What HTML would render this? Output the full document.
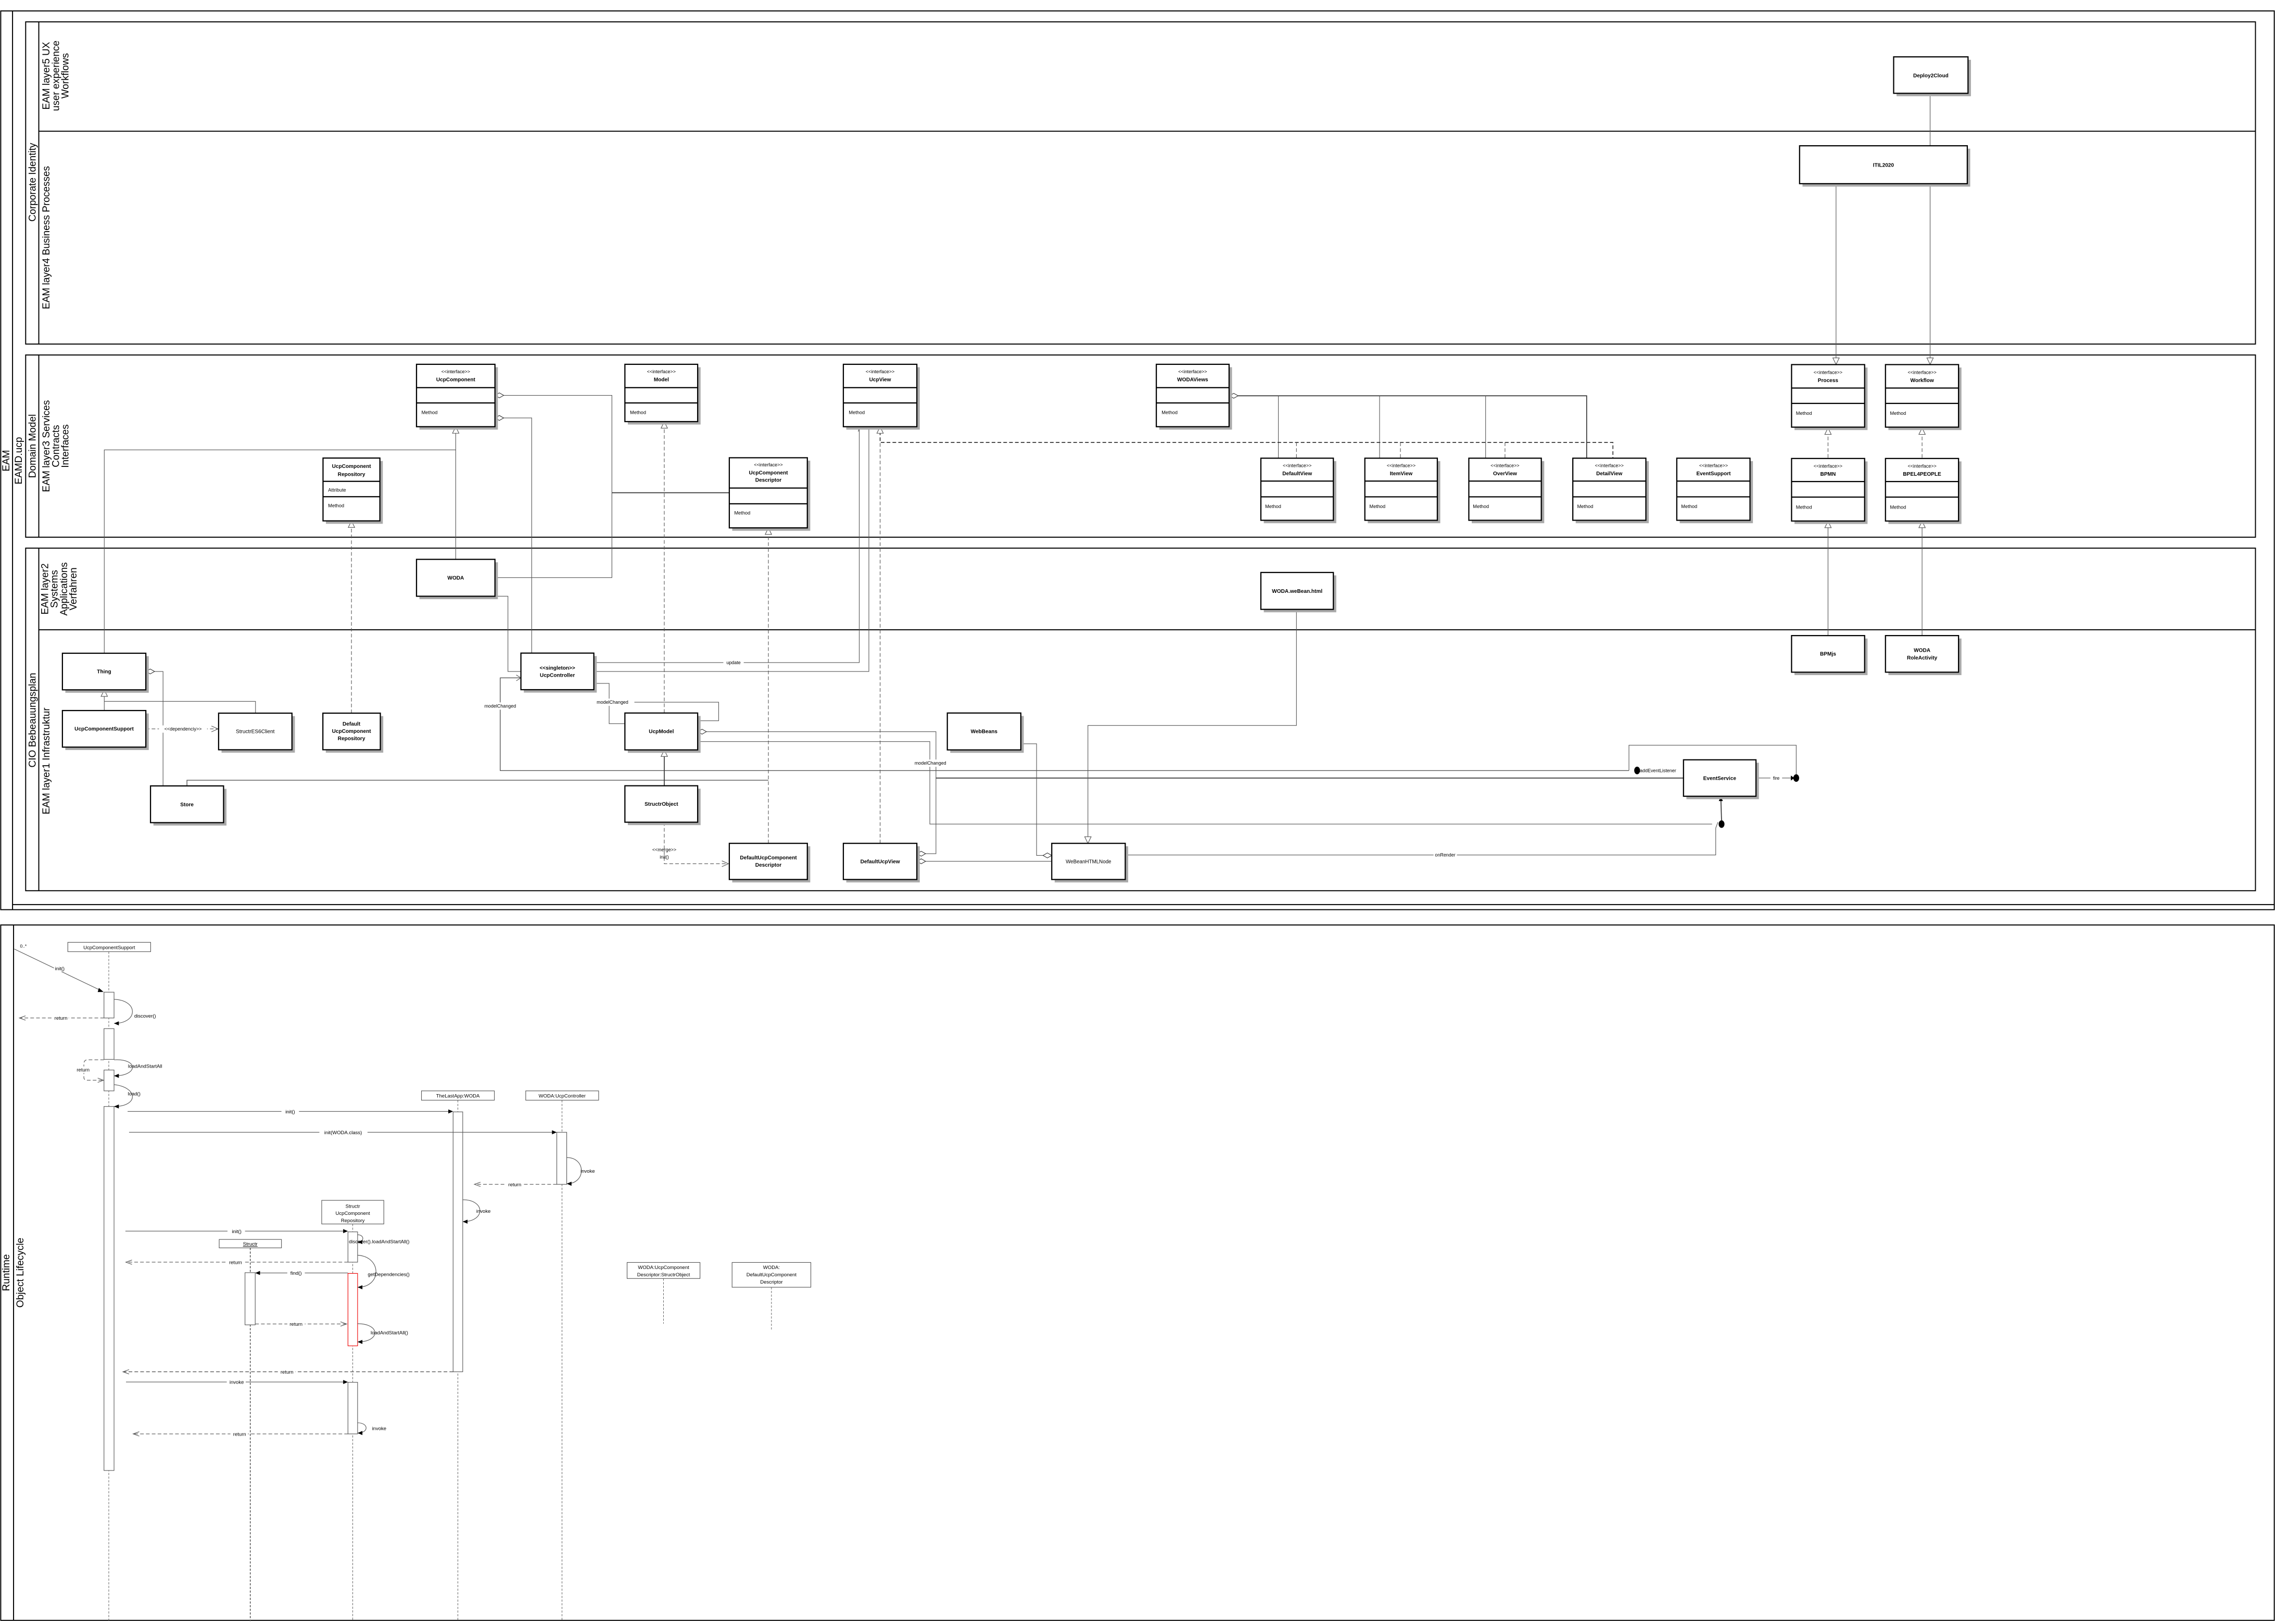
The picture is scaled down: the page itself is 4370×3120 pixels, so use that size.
<!DOCTYPE html>
<html><head><meta charset="utf-8"><style>
html,body{margin:0;padding:0;background:#fff;}
svg{display:block;}
text{font-family:"Liberation Sans",sans-serif;fill:#000;}
.lane{fill:none;stroke:#000;stroke-width:0.7;}
.box{fill:#fff;stroke:#000;stroke-width:0.8;}
.sh{fill:#aaa;}
.c{fill:none;stroke:#555;stroke-width:0.4;}
.ct{fill:none;stroke:#333;stroke-width:0.6;}
.d{fill:none;stroke:#555;stroke-width:0.4;stroke-dasharray:2.5,1.5;}
.b{font-size:3.6px;font-weight:bold;text-anchor:middle;}
.s{font-size:3.2px;text-anchor:middle;}
.m{font-size:3.3px;}
.L{font-size:6.8px;text-anchor:middle;}
.q{font-size:3.4px;text-anchor:middle;}
.act{fill:#fff;stroke:#555;stroke-width:0.4;}
.ll{fill:none;stroke:#444;stroke-width:0.3;stroke-dasharray:1.5,1;}
.tri{fill:#fff;stroke:#555;stroke-width:0.4;}
.dia{fill:#fff;stroke:#333;stroke-width:0.4;}
</style></head><body>
<svg width="4370" height="3120" viewBox="0 0 1560 1114" preserveAspectRatio="none" xmlns="http://www.w3.org/2000/svg">
<rect width="1560" height="1114" fill="#fff"/>
<!-- ===== Top frame ===== -->
<rect class="lane" x="0.5" y="7.5" width="1559" height="616.5"/>
<line class="lane" x1="8.6" y1="7.5" x2="8.6" y2="624"/>
<line class="lane" x1="8.6" y1="620.5" x2="1559.5" y2="620.5"/>
<text class="L" transform="translate(6.5,316) rotate(-90)">EAM</text>
<text class="L" transform="translate(15,316) rotate(-90)">EAMD.ucp</text>
<!-- Corporate Identity pool -->
<rect class="lane" x="17.6" y="15" width="1529" height="221"/>
<line class="lane" x1="26.6" y1="15" x2="26.6" y2="236"/>
<line class="lane" x1="26.6" y1="90" x2="1546.6" y2="90"/>
<text class="L" transform="translate(24.5,125) rotate(-90)">Corporate Identity</text>
<text class="L" transform="translate(34,52) rotate(-90)"><tspan x="0" dy="0">EAM layer5 UX</tspan><tspan x="0" dy="6.5">user experience</tspan><tspan x="0" dy="6.5">Workflows</tspan></text>
<text class="L" transform="translate(34,163) rotate(-90)">EAM layer4 Business Processes</text>
<!-- Domain model pool -->
<rect class="lane" x="17.6" y="243.5" width="1529" height="125"/>
<line class="lane" x1="26.6" y1="243.5" x2="26.6" y2="368.5"/>
<text class="L" transform="translate(24.5,306) rotate(-90)">Domain Model</text>
<text class="L" transform="translate(34,306) rotate(-90)"><tspan x="0" dy="0">EAM layer3 Services</tspan><tspan x="0" dy="6.5">Contracts</tspan><tspan x="0" dy="6.5">Interfaces</tspan></text>
<!-- CIO pool -->
<rect class="lane" x="17.6" y="376" width="1529" height="235"/>
<line class="lane" x1="26.6" y1="376" x2="26.6" y2="611"/>
<line class="lane" x1="26.6" y1="432" x2="1546.6" y2="432"/>
<text class="L" transform="translate(24.5,494) rotate(-90)">CIO Bebeauungsplan</text>
<text class="L" transform="translate(33,404) rotate(-90)"><tspan x="0" dy="0">EAM layer2</tspan><tspan x="0" dy="6.5">Systems</tspan><tspan x="0" dy="6.5">Applications</tspan><tspan x="0" dy="6.5">Verfahren</tspan></text>
<text class="L" transform="translate(34,522) rotate(-90)">EAM layer1 Infrastruktur</text>

<!-- ===== connectors (drawn under boxes) ===== -->
<g>
<polyline class="c" points="1259,126 1259,248"/>
<polygon class="tri" points="1259,250 1256.8,245.5 1261.2,245.5"/>
<polyline class="c" points="1323.5,64 1323.5,248"/>
<polygon class="tri" points="1323.5,250 1321.3,245.5 1325.7,245.5"/>
<line class="d" x1="1253.5" y1="314" x2="1253.5" y2="296"/><polygon class="tri" points="1253.5,293.5 1251.3,298 1255.7,298"/>
<line class="d" x1="1318" y1="314" x2="1318" y2="296"/><polygon class="tri" points="1318,293.5 1315.8,298 1320.2,298"/>
<line class="c" x1="1253.5" y1="436" x2="1253.5" y2="362"/><polygon class="tri" points="1253.5,357.5 1251.3,362 1255.7,362"/>
<line class="c" x1="1318" y1="436" x2="1318" y2="362"/><polygon class="tri" points="1318,357.5 1315.8,362 1320.2,362"/>
<polyline class="ct" points="843,271.5 1088,271.5 1088,314"/>
<line class="c" x1="876.6" y1="271.5" x2="876.6" y2="314"/>
<line class="c" x1="946" y1="271.5" x2="946" y2="314"/>
<line class="c" x1="1018.7" y1="271.5" x2="1018.7" y2="314"/>
<polygon class="dia" points="843,271.5 846,269.8 849,271.5 846,273.2"/>
<polyline class="d" points="603.5,296 603.5,303.5 1106,303.5 1106,314" style="stroke:#333;stroke-width:0.6"/>
<line class="d" x1="889" y1="303.5" x2="889" y2="314"/>
<line class="d" x1="960.3" y1="303.5" x2="960.3" y2="314"/>
<line class="d" x1="1032" y1="303.5" x2="1032" y2="314"/>
<polygon class="tri" points="603.5,292.7 601.3,297.2 605.7,297.2"/>
<polyline class="c" points="339.4,271.2 419.6,271.2 419.6,396.2 339.4,396.2"/>
<line class="ct" x1="419.6" y1="338" x2="500.1" y2="338"/>
<polygon class="dia" points="339.4,271.2 342.4,269.5 345.4,271.2 342.4,272.9"/>
<polyline class="c" points="339.4,286.7 364.6,286.7 364.6,448"/>
<polygon class="dia" points="339.4,286.7 342.4,285 345.4,286.7 342.4,288.4"/>
<polyline class="c" points="312.5,297 312.5,383.7"/>
<polyline class="c" points="312.5,308.6 71.5,308.6 71.5,448.1"/>
<polygon class="tri" points="312.5,292.7 310.3,297.2 314.7,297.2"/>
<polyline class="c" points="339.4,409 348.3,409 348.3,460.6 357.2,460.6"/>
<line class="d" x1="455.5" y1="489" x2="455.5" y2="293"/>
<polygon class="tri" points="455.5,289.2 453.3,293.7 457.7,293.7"/>
<line class="d" x1="526.9" y1="578.5" x2="526.9" y2="366"/>
<polygon class="tri" points="526.9,362.1 524.7,366.6 529.1,366.6"/>
<line class="d" x1="241" y1="489.2" x2="241" y2="361"/>
<polygon class="tri" points="241,357.3 238.8,361.8 243.2,361.8"/>
<line class="d" x1="603.5" y1="578.5" x2="603.5" y2="303.5"/>
<polyline class="c" points="407.2,454.5 589.2,454.5 589.2,293"/>
<polyline class="c" points="407.2,460.6 595.8,460.6 595.8,293"/>
<line class="c" x1="588.5" y1="296" x2="589.5" y2="293"/>
<rect x="496" y="452" width="14" height="5" fill="#fff"/>
<text class="s" x="503" y="455.6">update</text>
<polyline class="c" points="407.2,468.8 417.7,468.8 417.7,496.4 428.5,496.4"/>
<polyline class="c" points="478.4,494.4 492.8,494.4 492.8,481.7 417.7,481.7"/>
<rect x="405" y="479.2" width="30" height="5" fill="#fff"/>
<text class="s" x="420" y="482.8">modelChanged</text>
<polyline class="c" points="357.2,465 343,465 343,528.6 1117,528.6" style="stroke:#555;stroke-width:0.5"/>
<polyline class="c" points="354,463 357.2,465 354,467"/>
<rect x="328" y="481.8" width="30" height="5" fill="#fff"/>
<text class="s" x="343" y="485.5">modelChanged</text>
<polyline class="c" points="128.2,539.1 128.2,535.2 526.9,535.2" style="stroke:#555;stroke-width:0.5"/>
<polyline class="c" points="478.4,501.9 641.8,501.9 641.8,585.6 628.7,585.6"/>
<polygon class="dia" points="478.4,501.9 481.4,500.2 484.4,501.9 481.4,503.6"/>
<polygon class="dia" points="628.7,585.6 631.7,583.9 634.7,585.6 631.7,587.3"/>
<polyline class="c" points="478.4,508.7 637.6,508.7 637.6,565.3 1174,565.3"/>
<rect x="623" y="521" width="30" height="5" fill="#fff"/>
<text class="s" x="638" y="524.5">modelChanged</text>
<line class="ct" x1="641.8" y1="533.7" x2="1154.4" y2="533.7"/>
<line class="ct" x1="455.5" y1="539" x2="455.5" y2="518.5"/>
<polygon class="tri" points="455.5,514.4 453.3,518.9 457.7,518.9"/>
<polyline class="d" points="455.5,564 455.5,592.5 498,592.5"/>
<polyline class="c" points="495,590.5 499.5,592.5 495,594.5"/>
<text class="s" x="455.5" y="584">&lt;&lt;merge&gt;&gt;</text>
<text class="s" x="455.5" y="589">init()</text>
<polyline class="c" points="700,510.2 710.8,510.2 710.8,586.8 721.2,586.8"/>
<polygon class="dia" points="721.2,586.8 718.2,585.1 715.2,586.8 718.2,588.5"/>
<line class="c" x1="628.7" y1="590.8" x2="721.2" y2="590.8"/>
<polygon class="dia" points="628.7,590.8 631.7,589.1 634.7,590.8 631.7,592.5"/>
<polyline class="c" points="889,418 889,497.6 746,497.6 746,575"/>
<polygon class="tri" points="746,578.5 743.8,574 748.2,574"/>
<polyline class="c" points="771.6,586.5 1176.5,586.5 1176.5,568"/>
<line class="c" x1="1176.5" y1="568" x2="1178" y2="564"/>
<rect x="983" y="584" width="16" height="5" fill="#fff"/>
<text class="s" x="991" y="587.6">onRender</text>
<polyline class="c" points="1117,528.5 1117,511.2 1231.7,511.2 1231.7,533.7"/>
<line class="c" x1="1204.1" y1="533.7" x2="1229" y2="533.7"/>
<polygon points="1228,532 1230.5,533.7 1228,535.4" fill="#000"/>
<rect x="1214" y="531.3" width="8" height="5" fill="#fff"/>
<text class="s" x="1218" y="534.9">fire</text>
<ellipse cx="1231.7" cy="533.7" rx="2" ry="2.6" fill="#000"/>
<ellipse cx="1122.6" cy="528.5" rx="2" ry="2.6" fill="#000"/>
<rect x="1125" y="526" width="29" height="5" fill="#fff"/>
<text class="m" x="1124.5" y="529.6" style="font-size:3.2px">addEventListener</text>
<ellipse cx="1180.5" cy="565.3" rx="2" ry="2.6" fill="#000"/>
<line class="ct" x1="1180.5" y1="563" x2="1180" y2="547.5"/>
<polygon points="1178.6,549.5 1180,546.3 1181.4,549.5" fill="#000"/>
<polyline class="c" points="100,460.6 111.8,460.6 111.8,539.1"/>
<polygon class="dia" points="100,460.6 103,458.9 106,460.6 103,462.3"/>
<line class="c" x1="71.5" y1="487.4" x2="71.5" y2="477"/>
<polyline class="c" points="71.5,481.1 175.2,481.1 175.2,489.2"/>
<polygon class="tri" points="71.5,473.2 69.3,477.7 73.7,477.7"/>
<line class="d" x1="100" y1="500" x2="149" y2="500"/>
<polyline class="c" points="145,498 149.5,500 145,502"/>
<rect x="109" y="497.6" width="33" height="5" fill="#fff"/>
<text class="s" x="125.5" y="501.2">&lt;&lt;dependenciy&gt;&gt;</text>
</g>

<!-- ===== Boxes ===== -->
<g>
<g class="sh">
<rect x="1300.5" y="41" width="51" height="25"/><rect x="1236" y="102" width="115" height="26"/>
<rect x="287.6" y="251.9" width="53.8" height="42.8"/><rect x="430.5" y="251.9" width="49.9" height="39.3"/>
<rect x="580.3" y="251.9" width="50.4" height="42.8"/><rect x="794.9" y="251.9" width="49.9" height="42.8"/>
<rect x="502.1" y="316" width="53.5" height="48.1"/><rect x="223.5" y="316.2" width="39" height="43.1"/>
<rect x="1230.5" y="252.1" width="50.1" height="42.9"/><rect x="1294.9" y="252.1" width="50.1" height="42.9"/>
<rect x="866.6" y="316.3" width="49.7" height="42.6"/><rect x="937.9" y="316.3" width="49.7" height="42.6"/>
<rect x="1009.2" y="316.3" width="49.7" height="42.6"/><rect x="1080.5" y="316.3" width="50.1" height="42.6"/>
<rect x="1151.8" y="316.3" width="50.2" height="42.6"/><rect x="1230.5" y="316.5" width="50.1" height="42.9"/>
<rect x="1294.9" y="316.5" width="50.1" height="42.9"/>
<rect x="287.6" y="385.7" width="53.8" height="25.3"/><rect x="866.6" y="394.7" width="49.7" height="25.3"/>
<rect x="1230.5" y="438" width="50.1" height="25.1"/><rect x="1294.9" y="438" width="50.1" height="25.1"/>
<rect x="44.8" y="450.1" width="57.2" height="25.1"/><rect x="44.8" y="489.4" width="57.2" height="25.1"/>
<rect x="151.9" y="491.2" width="50.3" height="25.1"/><rect x="223.4" y="491.2" width="39.4" height="25.1"/>
<rect x="105.2" y="541.1" width="50.1" height="25.2"/>
<rect x="359.2" y="450" width="50" height="25.1"/><rect x="430.5" y="491.1" width="49.9" height="25.3"/>
<rect x="430.5" y="541" width="49.9" height="25"/><rect x="651.6" y="491.1" width="50.4" height="25.3"/>
<rect x="502.1" y="580.5" width="53.5" height="24.8"/><rect x="580.3" y="580.5" width="50.4" height="24.8"/>
<rect x="723.2" y="580.5" width="50.4" height="24.8"/><rect x="1156.4" y="523.2" width="49.7" height="25"/>
</g>
<rect class="box" x="1298.5" y="39" width="51" height="25"/><text class="b" x="1324" y="53">Deploy2Cloud</text>
<rect class="box" x="1234" y="100" width="115" height="26"/><text class="b" x="1291.5" y="114.5">ITIL2020</text>
<g>
<rect class="box" x="285.6" y="249.9" width="53.8" height="42.8"/><line class="box" x1="285.6" y1="265.9" x2="339.4" y2="265.9"/><line class="box" x1="285.6" y1="276.4" x2="339.4" y2="276.4"/>
<text class="s" x="312.5" y="256">&lt;&lt;interface&gt;&gt;</text><text class="b" x="312.5" y="261.5">UcpComponent</text><text class="m" x="289" y="284">Method</text>
<rect class="box" x="428.5" y="249.9" width="49.9" height="39.3"/><line class="box" x1="428.5" y1="265.9" x2="478.4" y2="265.9"/><line class="box" x1="428.5" y1="276.4" x2="478.4" y2="276.4"/>
<text class="s" x="453.5" y="256">&lt;&lt;interface&gt;&gt;</text><text class="b" x="453.5" y="261.5">Model</text><text class="m" x="432" y="284">Method</text>
<rect class="box" x="578.3" y="249.9" width="50.4" height="42.8"/><line class="box" x1="578.3" y1="265.9" x2="628.7" y2="265.9"/><line class="box" x1="578.3" y1="276.4" x2="628.7" y2="276.4"/>
<text class="s" x="603.5" y="256">&lt;&lt;interface&gt;&gt;</text><text class="b" x="603.5" y="261.5">UcpView</text><text class="m" x="582" y="284">Method</text>
<rect class="box" x="792.9" y="249.9" width="49.9" height="42.8"/><line class="box" x1="792.9" y1="265.9" x2="842.8" y2="265.9"/><line class="box" x1="792.9" y1="276.4" x2="842.8" y2="276.4"/>
<text class="s" x="817.8" y="256">&lt;&lt;interface&gt;&gt;</text><text class="b" x="817.8" y="261.5">WODAViews</text><text class="m" x="796.5" y="284">Method</text>
<rect class="box" x="500.1" y="314" width="53.5" height="48.1"/><line class="box" x1="500.1" y1="334.8" x2="553.6" y2="334.8"/><line class="box" x1="500.1" y1="345.6" x2="553.6" y2="345.6"/>
<text class="s" x="526.9" y="320">&lt;&lt;interface&gt;&gt;</text><text class="b" x="526.9" y="325.5">UcpComponent</text><text class="b" x="526.9" y="330.5">Descriptor</text><text class="m" x="503.5" y="353">Method</text>
<rect class="box" x="221.5" y="314.2" width="39" height="43.1"/><line class="box" x1="221.5" y1="330.2" x2="260.5" y2="330.2"/><line class="box" x1="221.5" y1="340.7" x2="260.5" y2="340.7"/>
<text class="b" x="241" y="321">UcpComponent</text><text class="b" x="241" y="326.5">Repository</text><text class="m" x="225" y="337.3">Attribute</text><text class="m" x="225" y="348">Method</text>
<rect class="box" x="1228.5" y="250.1" width="50.1" height="42.9"/><line class="box" x1="1228.5" y1="266.2" x2="1278.6" y2="266.2"/><line class="box" x1="1228.5" y1="276.7" x2="1278.6" y2="276.7"/>
<text class="s" x="1253.5" y="256.5">&lt;&lt;interface&gt;&gt;</text><text class="b" x="1253.5" y="262">Process</text><text class="m" x="1231.5" y="284.5">Method</text>
<rect class="box" x="1292.9" y="250.1" width="50.1" height="42.9"/><line class="box" x1="1292.9" y1="266.2" x2="1343" y2="266.2"/><line class="box" x1="1292.9" y1="276.7" x2="1343" y2="276.7"/>
<text class="s" x="1318" y="256.5">&lt;&lt;interface&gt;&gt;</text><text class="b" x="1318" y="262">Workflow</text><text class="m" x="1296" y="284.5">Method</text>
<rect class="box" x="864.6" y="314.3" width="49.7" height="42.6"/><line class="box" x1="864.6" y1="330" x2="914.3" y2="330"/><line class="box" x1="864.6" y1="340.8" x2="914.3" y2="340.8"/>
<text class="s" x="889.5" y="320.5">&lt;&lt;interface&gt;&gt;</text><text class="b" x="889.5" y="326">DefaultView</text><text class="m" x="867.5" y="348.5">Method</text>
<rect class="box" x="935.9" y="314.3" width="49.7" height="42.6"/><line class="box" x1="935.9" y1="330" x2="985.6" y2="330"/><line class="box" x1="935.9" y1="340.8" x2="985.6" y2="340.8"/>
<text class="s" x="960.8" y="320.5">&lt;&lt;interface&gt;&gt;</text><text class="b" x="960.8" y="326">ItemView</text><text class="m" x="939" y="348.5">Method</text>
<rect class="box" x="1007.2" y="314.3" width="49.7" height="42.6"/><line class="box" x1="1007.2" y1="330" x2="1056.9" y2="330"/><line class="box" x1="1007.2" y1="340.8" x2="1056.9" y2="340.8"/>
<text class="s" x="1032" y="320.5">&lt;&lt;interface&gt;&gt;</text><text class="b" x="1032" y="326">OverView</text><text class="m" x="1010" y="348.5">Method</text>
<rect class="box" x="1078.5" y="314.3" width="50.1" height="42.6"/><line class="box" x1="1078.5" y1="330" x2="1128.6" y2="330"/><line class="box" x1="1078.5" y1="340.8" x2="1128.6" y2="340.8"/>
<text class="s" x="1103.5" y="320.5">&lt;&lt;interface&gt;&gt;</text><text class="b" x="1103.5" y="326">DetailView</text><text class="m" x="1081.5" y="348.5">Method</text>
<rect class="box" x="1149.8" y="314.3" width="50.2" height="42.6"/><line class="box" x1="1149.8" y1="330" x2="1200" y2="330"/><line class="box" x1="1149.8" y1="340.8" x2="1200" y2="340.8"/>
<text class="s" x="1175" y="320.5">&lt;&lt;interface&gt;&gt;</text><text class="b" x="1175" y="326">EventSupport</text><text class="m" x="1152.8" y="348.5">Method</text>
<rect class="box" x="1228.5" y="314.5" width="50.1" height="42.9"/><line class="box" x1="1228.5" y1="330.3" x2="1278.6" y2="330.3"/><line class="box" x1="1228.5" y1="341" x2="1278.6" y2="341"/>
<text class="s" x="1253.5" y="320.8">&lt;&lt;interface&gt;&gt;</text><text class="b" x="1253.5" y="326.3">BPMN</text><text class="m" x="1231.5" y="349">Method</text>
<rect class="box" x="1292.9" y="314.5" width="50.1" height="42.9"/><line class="box" x1="1292.9" y1="330.3" x2="1343" y2="330.3"/><line class="box" x1="1292.9" y1="341" x2="1343" y2="341"/>
<text class="s" x="1318" y="320.8">&lt;&lt;interface&gt;&gt;</text><text class="b" x="1318" y="326.3">BPEL4PEOPLE</text><text class="m" x="1296" y="349">Method</text>
</g>
<rect class="box" x="285.6" y="383.7" width="53.8" height="25.3"/><text class="b" x="312.5" y="397.6">WODA</text>
<rect class="box" x="864.6" y="392.7" width="49.7" height="25.3"/><text class="b" x="889.5" y="406.6">WODA.weBean.html</text>
<rect class="box" x="1228.5" y="436" width="50.1" height="25.1"/><text class="b" x="1253.5" y="449.8">BPMjs</text>
<rect class="box" x="1292.9" y="436" width="50.1" height="25.1"/><text class="b" x="1318" y="447.3">WODA</text><text class="b" x="1318" y="452.3">RoleActivity</text>
<rect class="box" x="42.8" y="448.1" width="57.2" height="25.1"/><text class="b" x="71.4" y="461.9">Thing</text>
<rect class="box" x="42.8" y="487.4" width="57.2" height="25.1"/><text class="b" x="71.4" y="501.2">UcpComponentSupport</text>
<rect class="box" x="149.9" y="489.2" width="50.3" height="25.1"/><text class="s" x="175" y="503" style="font-size:3.6px">StructrES6Client</text>
<rect class="box" x="221.4" y="489.2" width="39.4" height="25.1"/><text class="b" x="241" y="497.8">Default</text><text class="b" x="241" y="502.8">UcpComponent</text><text class="b" x="241" y="507.8">Repository</text>
<rect class="box" x="103.2" y="539.1" width="50.1" height="25.2"/><text class="b" x="128.2" y="553">Store</text>
<rect class="box" x="357.2" y="448" width="50" height="25.1"/><text class="b" x="382.2" y="459.3">&lt;&lt;singleton&gt;&gt;</text><text class="b" x="382.2" y="464.3">UcpController</text>
<rect class="box" x="428.5" y="489.1" width="49.9" height="25.3"/><text class="b" x="453.5" y="503">UcpModel</text>
<rect class="box" x="428.5" y="539" width="49.9" height="25"/><text class="b" x="453.5" y="552.8">StructrObject</text>
<rect class="box" x="649.6" y="489.1" width="50.4" height="25.3"/><text class="b" x="674.8" y="503">WebBeans</text>
<rect class="box" x="500.1" y="578.5" width="53.5" height="24.8"/><text class="b" x="526.9" y="589.5">DefaultUcpComponent</text><text class="b" x="526.9" y="594.5">Descriptor</text>
<rect class="box" x="578.3" y="578.5" width="50.4" height="24.8"/><text class="b" x="603.5" y="592.2">DefaultUcpView</text>
<rect class="box" x="721.2" y="578.5" width="50.4" height="24.8"/><text class="s" x="746.4" y="592.2" style="font-size:3.5px">WeBeanHTMLNode</text>
<rect class="box" x="1154.4" y="521.2" width="49.7" height="25"/><text class="b" x="1179.2" y="535">EventService</text>
</g>

<!-- ===== Runtime frame ===== -->
<rect class="lane" x="0.5" y="634.5" width="1559" height="477"/>
<line class="lane" x1="9.3" y1="634.5" x2="9.3" y2="1111.5"/>
<text class="L" transform="translate(6.5,873) rotate(-90)">Runtime</text>
<text class="L" transform="translate(16,873) rotate(-90)">Object Lifecycle</text>

<g>
<line class="ll" x1="74.6" y1="652.8" x2="74.6" y2="1112"/>
<line class="ll" x1="314" y1="754.7" x2="314" y2="1112"/>
<line class="ll" x1="385.4" y1="754.7" x2="385.4" y2="1112"/>
<line class="ll" x1="241.9" y1="839.6" x2="241.9" y2="1112"/>
<line class="ll" x1="171.6" y1="856" x2="171.6" y2="1112" style="stroke-width:0.5"/>
<line class="ll" x1="455" y1="877" x2="455" y2="908"/>
<line class="ll" x1="529" y1="883" x2="529" y2="913"/>
<rect class="act" x="46.5" y="646.4" width="56.8" height="6.4"/><text class="q" x="74.9" y="651">UcpComponentSupport</text>
<rect class="act" x="289" y="748.3" width="50" height="6.4"/><text class="q" x="314" y="752.9">TheLastApp:WODA</text>
<rect class="act" x="360.5" y="748.3" width="50" height="6.4"/><text class="q" x="385.5" y="752.9">WODA:UcpController</text>
<rect class="act" x="220.6" y="823.4" width="42.6" height="16.2"/><text class="q" x="241.9" y="828.5">Structr</text><text class="q" x="241.9" y="833.4">UcpComponent</text><text class="q" x="241.9" y="838.3">Repository</text>
<rect class="act" x="150.3" y="850.2" width="42.7" height="5.8"/><text class="q" x="171.6" y="854.5" text-decoration="underline">Structr</text>
<rect class="act" x="430" y="866" width="50" height="11"/><text class="q" x="455" y="870.5">WODA:UcpComponent</text><text class="q" x="455" y="875.5">Descriptor:StructrObject</text>
<rect class="act" x="502" y="866" width="54" height="17"/><text class="q" x="529" y="870.5">WODA:</text><text class="q" x="529" y="875.5">DefaultUcpComponent</text><text class="q" x="529" y="880.5">Descriptor</text>
<rect class="act" x="71.3" y="680.6" width="6.9" height="17.7"/>
<rect class="act" x="71.3" y="705.6" width="6.9" height="21.1"/>
<rect class="act" x="71.3" y="734" width="6.9" height="14.3"/>
<rect class="act" x="71.3" y="759" width="6.9" height="249.7"/>
<rect class="act" x="310.7" y="762.7" width="6.6" height="178.3"/>
<rect class="act" x="381.8" y="776.7" width="6.8" height="35.7"/>
<rect class="act" x="238.6" y="845" width="6.6" height="20.8"/>
<rect class="act" x="168" y="873" width="7" height="35.8"/>
<rect x="238.6" y="873.5" width="6.6" height="49.7" fill="#fff" stroke="#e00" stroke-width="0.4"/>
<rect class="act" x="238.6" y="948.2" width="6.6" height="35.4"/>
<line class="c" x1="9.8" y1="651" x2="69.5" y2="679.6"/>
<polygon points="71,680.4 67.8,677.7 67,680.5" fill="#000"/>
<text class="q" x="16" y="650" style="font-size:3px">0..*</text>
<rect x="37" y="662" width="8" height="4.5" fill="#fff"/><text class="q" x="41" y="665.5">init()</text>
<path class="c" d="M78.2,685.5 C95,686 95,702 78.2,702"/><polygon points="78.2,702 81.5,700.6 81.5,703.4" fill="#000"/>
<text class="q" x="99.5" y="698">discover()</text>
<line class="d" x1="71.3" y1="698.3" x2="14" y2="698.3"/><polyline class="c" points="17.5,696.8 13.3,698.3 17.5,699.8"/>
<rect x="36" y="696" width="11" height="4.5" fill="#fff"/><text class="q" x="41.8" y="699.5">return</text>
<path class="c" d="M78.2,727 C95,726 95,738 78.2,738"/><polygon points="78.2,738 81.5,736.6 81.5,739.4" fill="#000"/>
<text class="q" x="99.5" y="732.5">loadAndStartAll</text>
<path class="d" d="M71.3,727 L60,727 Q57.5,727 57.5,730 L57.5,739 Q57.5,741 60,741 L70,741"/><polyline class="c" points="67,739.5 71,741 67,742.5"/>
<rect x="51.5" y="731.5" width="11" height="4.5" fill="#fff"/><text class="q" x="57" y="735">return</text>
<path class="c" d="M78.2,744 C95,746 95,759 78.2,759"/><polygon points="78.2,759 81.5,757.6 81.5,760.4" fill="#000"/>
<text class="q" x="92" y="751.5">load()</text>
<line class="c" x1="87.5" y1="762.4" x2="309" y2="762.4"/><polygon points="310.7,762.4 307.4,761 307.4,763.8" fill="#000"/>
<rect x="193" y="760.2" width="12" height="4.5" fill="#fff"/><text class="q" x="199" y="763.7">init()</text>
<line class="c" x1="88.5" y1="776.7" x2="380" y2="776.7"/><polygon points="381.8,776.7 378.5,775.3 378.5,778.1" fill="#000"/>
<rect x="219" y="774.5" width="33" height="4.5" fill="#fff"/><text class="q" x="235.3" y="778">init(WODA.class)</text>
<path class="c" d="M388.6,794 C402,794 402,812 388.6,812"/><polygon points="388.6,812 391.9,810.6 391.9,813.4" fill="#000"/>
<text class="q" x="403" y="804.5">invoke</text>
<line class="d" x1="381.8" y1="812.4" x2="326" y2="812.4"/><polyline class="c" points="329.5,810.9 325.3,812.4 329.5,813.9"/>
<rect x="347" y="810.2" width="12" height="4.5" fill="#fff"/><text class="q" x="353" y="813.7">return</text>
<path class="c" d="M317.3,823 C333,823 333,838 317.3,838"/><polygon points="317.3,838 320.6,836.6 320.6,839.4" fill="#000"/>
<text class="q" x="331.5" y="832">invoke</text>
<line class="c" x1="86" y1="844.5" x2="237" y2="844.5"/><polygon points="238.6,844.5 235.3,843.1 235.3,845.9" fill="#000"/>
<rect x="156" y="842.3" width="12" height="4.5" fill="#fff"/><text class="q" x="162.3" y="845.8">init()</text>
<path class="c" d="M245.2,847 C250,847 250,852 245.2,852"/><polygon points="245.2,852 248.5,850.6 248.5,853.4" fill="#000"/>
<text class="q" x="260" y="852.8">discover().loadAndStartAll()</text>
<line class="d" x1="238.6" y1="865.8" x2="87" y2="865.8"/><polyline class="c" points="90.5,864.3 86.3,865.8 90.5,867.3"/>
<rect x="155.5" y="863.6" width="12" height="4.5" fill="#fff"/><text class="q" x="161.5" y="867.1">return</text>
<line class="c" x1="238.6" y1="873.2" x2="176.5" y2="873.2"/><polygon points="175,873.2 178.3,871.8 178.3,874.6" fill="#000"/>
<rect x="197" y="871" width="12" height="4.5" fill="#fff"/><text class="q" x="203" y="874.5">find()</text>
<path class="c" d="M245.2,861 C262,862 262,883 245.2,883"/><polygon points="245.2,883 248.5,881.6 248.5,884.4" fill="#000"/>
<text class="q" x="266.5" y="875.3">getDependencies()</text>
<line class="d" x1="175" y1="908.2" x2="237" y2="908.2"/><polyline class="c" points="233.5,906.7 237.7,908.2 233.5,909.7"/>
<rect x="197" y="906" width="12" height="4.5" fill="#fff"/><text class="q" x="203" y="909.5">return</text>
<path class="c" d="M245.2,908 C261,908 261,920.5 245.2,920.5"/><polygon points="245.2,920.5 248.5,919.1 248.5,921.9" fill="#000"/>
<text class="q" x="267" y="915.3">loadAndStartAll()</text>
<line class="d" x1="310.7" y1="941" x2="85" y2="941" style="stroke-width:0.5"/><polyline class="c" points="88.5,939.5 84.3,941 88.5,942.5"/>
<rect x="190.5" y="938.8" width="12" height="4.5" fill="#fff"/><text class="q" x="196.8" y="942.3">return</text>
<line class="c" x1="86.4" y1="948" x2="237" y2="948"/><polygon points="238.6,948 235.3,946.6 235.3,949.4" fill="#000"/>
<rect x="155.5" y="945.8" width="13" height="4.5" fill="#fff"/><text class="q" x="162.3" y="949.3">invoke</text>
<path class="c" d="M245.2,976 C253,976 253,983 245.2,983"/><polygon points="245.2,983 248.5,981.6 248.5,984.4" fill="#000"/>
<text class="q" x="260" y="981">invoke</text>
<line class="d" x1="238.6" y1="983.6" x2="92" y2="983.6"/><polyline class="c" points="95.5,982.1 91.3,983.6 95.5,985.1"/>
<rect x="158" y="981.4" width="12" height="4.5" fill="#fff"/><text class="q" x="164.3" y="984.9">return</text>
</g>
</svg>
</body></html>
